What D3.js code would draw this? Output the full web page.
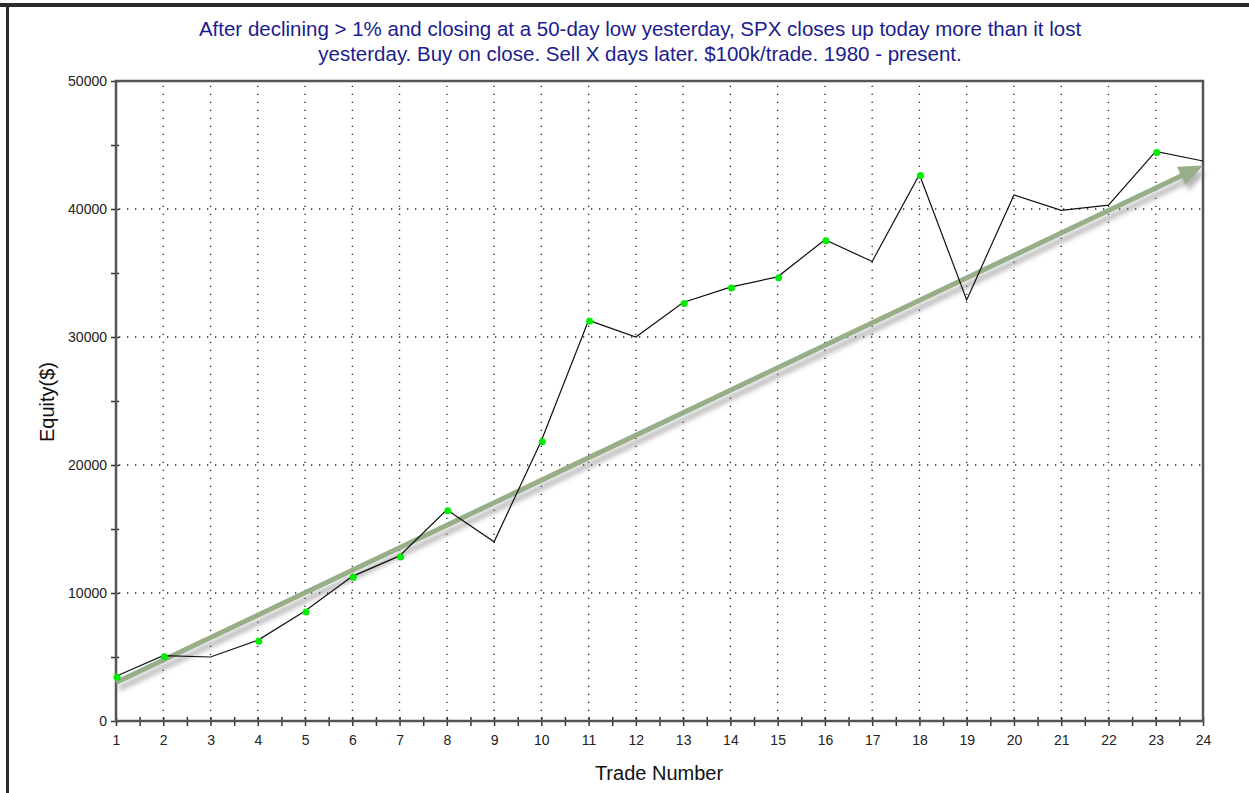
<!DOCTYPE html>
<html><head><meta charset="utf-8">
<script src="https://cdn.jsdelivr.net/npm/d3@7"></script>
<style>body{margin:0;background:#fff}svg{display:block}text{font-family:"Liberation Sans",Arial,sans-serif}</style>
</head><body><svg id="c" width="1249" height="793"></svg>
<script>
const trades = d3.range(1, 25);
const equity = [3500, 5100, 5000, 6300, 8600, 11300, 12900, 16500, 14000, 21900, 31300, 30000, 32700, 33900, 34700, 37600, 35900, 42700, 32900, 41100, 39900, 40300, 44500, 43750];
const markedTrades = [1, 2, 4, 5, 6, 7, 8, 10, 11, 13, 14, 15, 16, 18, 23];
const yTicks = [0, 10000, 20000, 30000, 40000, 50000];
const yMinor = [5000, 15000, 25000, 35000, 45000];
const trendStart = [1, 3000];
const trendEnd = [24, 43400];
const titleLines = ["After declining > 1% and closing at a 50-day low yesterday, SPX closes up today more than it lost",
                    "yesterday. Buy on close. Sell X days later. $100k/trade. 1980 - present."];

const svg = d3.select("#c");
const L = 116, R = 1203, T = 81, B = 721;
const x = d3.scaleLinear().domain([1, 24]).range([L, R]);
const y = d3.scaleLinear().domain([0, 50000]).range([B, T]);

// outer frame
svg.append("rect").attr("x", 0).attr("y", 3).attr("width", 1249).attr("height", 4).attr("fill", "#2b2b2b");
svg.append("rect").attr("x", 6).attr("y", 3).attr("width", 3).attr("height", 790).attr("fill", "#2b2b2b");

const defs = svg.append("defs");
const f = defs.append("filter").attr("id", "sh").attr("x", "-10%").attr("y", "-10%").attr("width", "130%").attr("height", "130%");
f.append("feGaussianBlur").attr("stdDeviation", 2.5);

// grid
const grid = svg.append("g").attr("stroke", "#222").attr("stroke-width", 1.3).attr("stroke-dasharray", "1.3,6.7");
grid.selectAll(".gv").data(trades.slice(1, -1)).join("line")
  .attr("x1", d => x(d)).attr("x2", d => x(d)).attr("y1", B - 2).attr("y2", T + 3);
grid.selectAll(".gh").data(yTicks.slice(1, -1)).join("line")
  .attr("x1", L + 3).attr("x2", R - 2).attr("y1", d => y(d)).attr("y2", d => y(d));

// axes
const ax = svg.append("g").attr("transform", `translate(0,${B})`)
  .call(d3.axisBottom(x).tickValues(trades).tickFormat(d3.format("d")).tickSize(5).tickPadding(11));
ax.select(".domain").remove();
ax.selectAll(".tick line").attr("stroke", "#333").attr("stroke-width", 1.5).attr("y1", -4);
ax.selectAll(".tick text").attr("font-size", 14).attr("fill", "#222").attr("dy", "0.6em");
const axm = svg.append("g").attr("transform", `translate(0,${B})`)
  .call(d3.axisBottom(x).tickValues(trades.slice(0, -1).map(d => d + 0.5)).tickFormat("").tickSize(5));
axm.select(".domain").remove();
axm.selectAll(".tick line").attr("stroke", "#333").attr("stroke-width", 1.5).attr("y1", -4);

const ay = svg.append("g").attr("transform", `translate(${L},0)`)
  .call(d3.axisLeft(y).tickValues(yTicks).tickFormat(d3.format("d")).tickSize(5).tickPadding(4));
ay.select(".domain").remove();
ay.selectAll(".tick line").attr("stroke", "#333").attr("stroke-width", 1.5).attr("x1", 3);
ay.selectAll(".tick text").attr("font-size", 14).attr("fill", "#222");
const aym = svg.append("g").attr("transform", `translate(${L},0)`)
  .call(d3.axisLeft(y).tickValues(yMinor).tickFormat("").tickSize(5));
aym.select(".domain").remove();
aym.selectAll(".tick line").attr("stroke", "#333").attr("stroke-width", 1.5).attr("x1", 3);

// frame
svg.append("rect").attr("x", L).attr("y", T).attr("width", R - L).attr("height", B - T)
  .attr("fill", "none").attr("stroke", "#555").attr("stroke-width", 2.5);

// trend arrow with shadow
function arrow(g, color, dx, dy) {
  const x1 = x(trendStart[0]) + dx, y1 = y(trendStart[1]) + dy;
  const x2 = x(trendEnd[0]) + dx, y2 = y(trendEnd[1]) + dy;
  const ang = Math.atan2(y2 - y1, x2 - x1);
  const hl = 24, hw = 10;
  const bx = x2 - hl * Math.cos(ang), by = y2 - hl * Math.sin(ang);
  g.append("line").attr("x1", x1).attr("y1", y1).attr("x2", bx + 2 * Math.cos(ang)).attr("y2", by + 2 * Math.sin(ang))
    .attr("stroke", color).attr("stroke-width", 5);
  g.append("path").attr("d", `M${x2},${y2}L${bx - hw * Math.sin(ang)},${by + hw * Math.cos(ang)}L${bx + hw * Math.sin(ang)},${by - hw * Math.cos(ang)}Z`)
    .attr("fill", color);
}
const shadow = svg.append("g").attr("filter", "url(#sh)").attr("opacity", 0.55);
arrow(shadow, "#777", 3, 6);
arrow(svg.append("g"), "#98ae88", 0, 0);

// equity line
const pts = trades.map((t, i) => [t, equity[i]]);
svg.append("path").datum(pts)
  .attr("d", d3.line().x(d => x(d[0])).y(d => y(d[1])))
  .attr("fill", "none").attr("stroke", "#111").attr("stroke-width", 1.2);
svg.selectAll(".dot").data(pts.filter(d => markedTrades.includes(d[0]))).join("circle")
  .attr("cx", d => x(d[0]) + 1).attr("cy", d => y(d[1]) + 1).attr("r", 3.5).attr("fill", "#00ee00");

// titles
svg.append("text").attr("x", 640).attr("y", 0).attr("text-anchor", "middle").attr("fill", "#1c1c8e").attr("font-size", 20.5)
  .selectAll("tspan").data(titleLines).join("tspan").attr("x", 640).attr("y", (d, i) => 36 + i * 25).text(d => d);
svg.append("text").attr("x", 659).attr("y", 780).attr("text-anchor", "middle").attr("font-size", 20).attr("fill", "#111").text("Trade Number");
svg.append("text").attr("transform", "translate(54,402) rotate(-90)").attr("text-anchor", "middle").attr("font-size", 20).attr("fill", "#111").text("Equity($)");
</script></body></html>
